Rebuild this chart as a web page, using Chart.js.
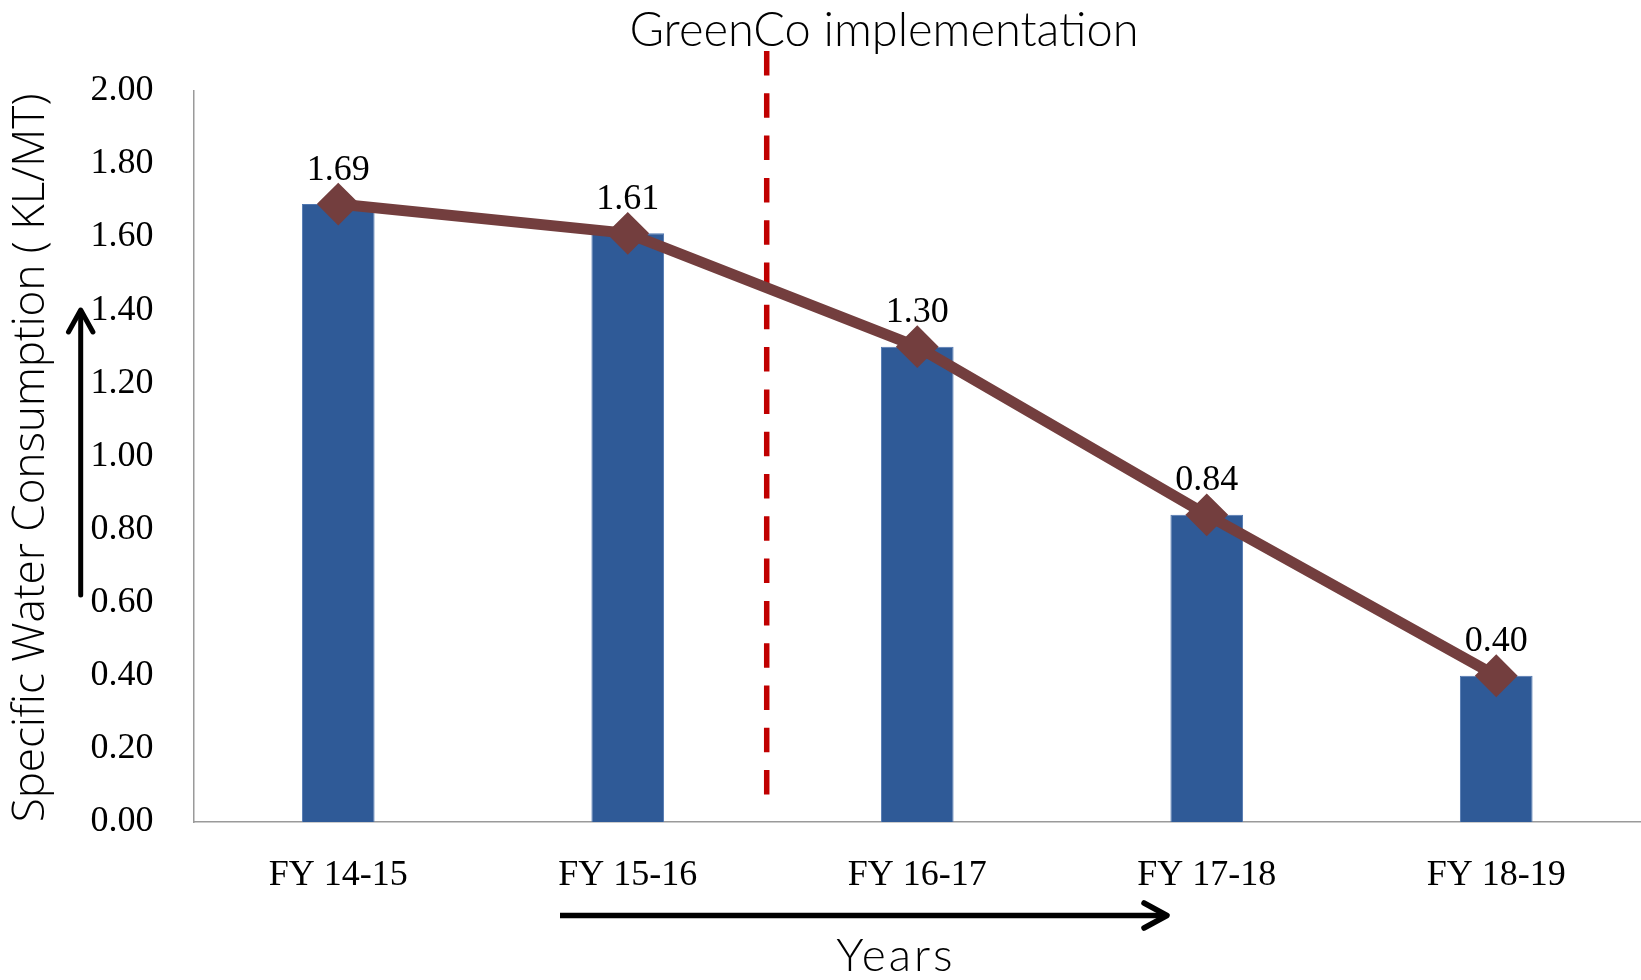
<!DOCTYPE html>
<html>
<head>
<meta charset="utf-8">
<script src="https://cdn.jsdelivr.net/npm/chart.js@4/dist/chart.umd.min.js"></script>
<style>
  html, body { margin: 0; padding: 0; background: #ffffff; }
  canvas { display: block; }
</style>
</head>
<body>
<canvas id="chart" width="1641" height="980"></canvas>
<script>
// ---- data ----
const categories = ['FY 14-15', 'FY 15-16', 'FY 16-17', 'FY 17-18', 'FY 18-19'];
const waterConsumption = [1.69, 1.61, 1.30, 0.84, 0.40];
const yTickLabels = ['0.00', '0.20', '0.40', '0.60', '0.80', '1.00', '1.20', '1.40', '1.60', '1.80', '2.00'];
const chartTitle = 'GreenCo implementation';
const yAxisTitle = 'Specific Water Consumption ( KL/MT)';
const xAxisTitle = 'Years';
const implementationPosition = 1.48; // between FY 15-16 and FY 16-17

// ---- styling ----
const BAR_COLOR = '#2F5A97';
const LINE_COLOR = '#733E3E';
const MARK_COLOR = '#C00000';
const SERIF = '"Liberation Serif", "Times New Roman", serif';

// dashed "implementation" marker, drawn beneath the datasets
const implementationMarker = {
  id: 'implementationMarker',
  beforeDatasetsDraw(chart) {
    const { ctx, scales, chartArea } = chart;
    const x = scales.x.getPixelForValue(implementationPosition);
    ctx.save();
    ctx.strokeStyle = MARK_COLOR;
    ctx.lineWidth = 5.5;
    ctx.setLineDash([24.5, 17.8]);
    ctx.beginPath();
    ctx.moveTo(x, 51);
    ctx.lineTo(x, chartArea.bottom - 27);
    ctx.stroke();
    ctx.restore();
  }
};

// value labels above the line markers
const valueLabels = {
  id: 'valueLabels',
  afterDatasetsDraw(chart) {
    const { ctx } = chart;
    const meta = chart.getDatasetMeta(1);
    ctx.save();
    ctx.font = '36px ' + SERIF;
    ctx.fillStyle = '#000';
    ctx.textAlign = 'center';
    ctx.textBaseline = 'alphabetic';
    meta.data.forEach((pt, i) => {
      ctx.fillText(waterConsumption[i].toFixed(2), pt.x, pt.y - 24.5);
    });
    ctx.restore();
  }
};

// titles and direction arrows
function arrowHead(ctx, tipX, tipY, ax, ay, bx, by) {
  ctx.beginPath();
  ctx.moveTo(ax, ay);
  ctx.lineTo(tipX, tipY);
  ctx.lineTo(bx, by);
  ctx.stroke();
}

const decorations = {
  id: 'decorations',
  afterDraw(chart) {
    const { ctx } = chart;
    ctx.save();
    ctx.fillStyle = '#000';

    // chart title
    ctx.font = '300 47px Lato, "Liberation Sans", sans-serif';
    ctx.textAlign = 'center';
    ctx.textBaseline = 'alphabetic';
    ctx.fillText(chartTitle, 884, 46);

    // x axis title
    ctx.save();
    ctx.font = '300 46px Lato, "Liberation Sans", sans-serif';
    ctx.letterSpacing = '3px';
    ctx.fillText(xAxisTitle, 896, 971);
    ctx.restore();

    // y axis title (rotated)
    ctx.save();
    ctx.translate(44, 458);
    ctx.rotate(-Math.PI / 2);
    ctx.font = '300 44px "Open Sans", "Liberation Sans", sans-serif';
    ctx.textAlign = 'center';
    ctx.textBaseline = 'alphabetic';
    ctx.fillText(yAxisTitle, 0, 0);
    ctx.restore();

    // arrows
    ctx.strokeStyle = '#000';
    ctx.lineWidth = 5;
    ctx.lineCap = 'round';
    ctx.lineJoin = 'round';

    // upward arrow beside the value axis
    ctx.beginPath();
    ctx.moveTo(80.7, 595);
    ctx.lineTo(80.7, 312);
    ctx.stroke();
    arrowHead(ctx, 80.7, 310, 68.5, 332, 92.9, 332);

    // rightward arrow under the category axis
    ctx.lineWidth = 5.5;
    ctx.lineCap = 'butt';
    ctx.beginPath();
    ctx.moveTo(560, 915.5);
    ctx.lineTo(1165, 915.5);
    ctx.stroke();
    ctx.lineCap = 'round';
    arrowHead(ctx, 1167, 915.5, 1144, 903, 1144, 928);

    ctx.restore();
  }
};

new Chart(document.getElementById('chart'), {
  data: {
    labels: categories,
    datasets: [
      {
        type: 'bar',
        label: 'Specific water consumption',
        data: waterConsumption,
        backgroundColor: BAR_COLOR,
        borderColor: '#5077B0',
        borderWidth: 1,
        barPercentage: 0.251,
        categoryPercentage: 1.0,
        order: 1
      },
      {
        type: 'line',
        label: 'Trend',
        data: waterConsumption,
        borderColor: LINE_COLOR,
        backgroundColor: LINE_COLOR,
        borderWidth: 11,
        pointStyle: 'rectRot',
        pointRadius: 20,
        pointBorderWidth: 2,
        pointBorderColor: LINE_COLOR,
        pointBackgroundColor: LINE_COLOR,
        tension: 0,
        clip: false,
        order: 0
      }
    ]
  },
  options: {
    responsive: false,
    devicePixelRatio: 1,
    animation: false,
    layout: {
      autoPadding: false,
      padding: { top: 90.7, right: 0, bottom: 0, left: 0 }
    },
    plugins: {
      legend: { display: false },
      tooltip: { enabled: false },
      title: { display: false }
    },
    scales: {
      x: {
        offset: true,
        grid: { display: false, drawTicks: false },
        border: { display: true, color: '#9A9A9A', width: 1.5 },
        ticks: {
          color: '#000',
          font: { family: SERIF, size: 36 },
          padding: 32,
          maxRotation: 0,
          autoSkip: false
        },
        afterFit(scale) {
          scale.height = 158;
          scale.paddingLeft = 0;
          scale.paddingRight = 0;
        }
      },
      y: {
        min: 0,
        max: 2,
        grid: { display: false, drawTicks: false },
        border: { display: true, color: '#9A9A9A', width: 1.5 },
        ticks: {
          stepSize: 0.2,
          color: '#000',
          font: { family: SERIF, size: 36 },
          padding: 40,
          callback: (value, index) => yTickLabels[index]
        },
        afterFit(scale) { scale.width = 193.5; }
      }
    }
  },
  plugins: [implementationMarker, valueLabels, decorations]
});
</script>
</body>
</html>
